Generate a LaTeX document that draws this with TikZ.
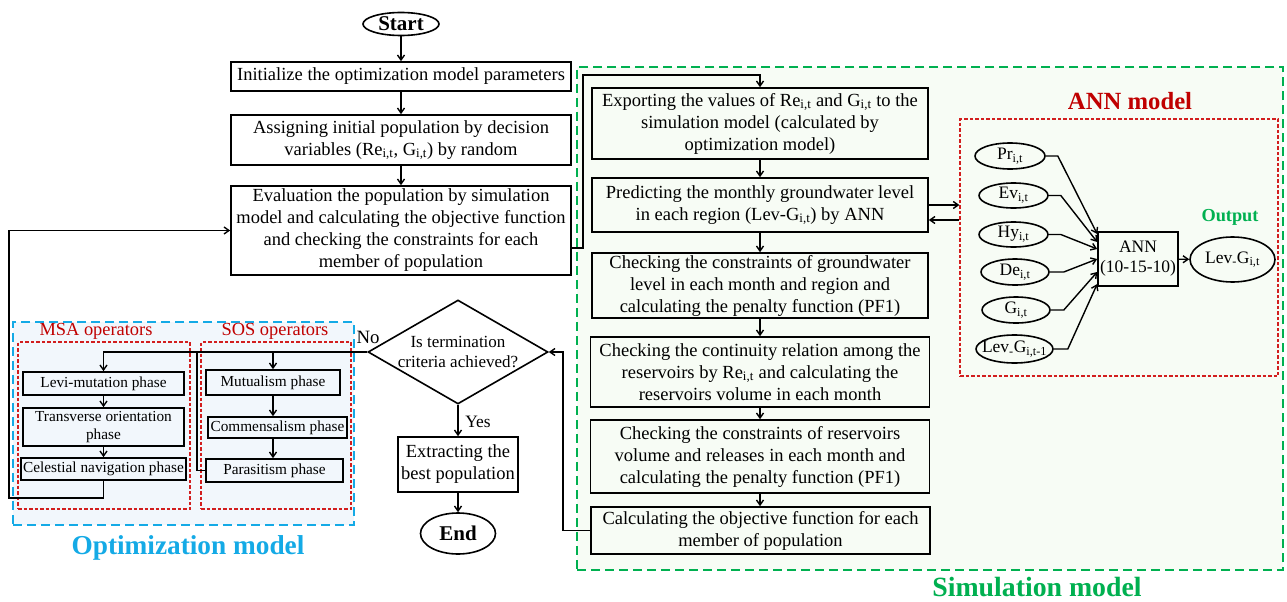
\documentclass[tikz,border=0pt]{standalone}
\usepackage{fontspec}
\setmainfont{Liberation Serif}
\usetikzlibrary{shapes.geometric,arrows.meta,calc}
\definecolor{optblue}{RGB}{20,170,230}
\definecolor{simgreen}{RGB}{0,176,80}
\definecolor{darkred}{RGB}{192,0,0}
\definecolor{boxred}{RGB}{210,30,30}
\definecolor{optfill}{RGB}{242,247,252}
\definecolor{simfill}{RGB}{247,252,245}
\newcommand{\fsmain}{\fontsize{18.5}{22}\selectfont}
\newcommand{\fssmall}{\fontsize{15.3}{18}\selectfont}
\newcommand{\fsann}{\fontsize{17.5}{20}\selectfont}
\newcommand{\ssub}[1]{\textsubscript{#1}}
\newcommand{\zw}[1]{\makebox[0pt]{#1}}
\begin{document}
\begin{tikzpicture}[x=1pt,y=-1pt,
  bx/.style 2 args={draw, line width=1.6pt, align=center, inner sep=0pt,
    minimum width=#1, minimum height=#2, font=\fsmain},
  sbx/.style 2 args={bx={#1}{#2}, font=\fssmall},
  ell/.style 2 args={draw, ellipse, line width=1.6pt, inner sep=0pt,
    minimum width=#1, minimum height=#2, font=\fsann},
  arr/.style={line width=1.4pt, -{Straight Barb[length=5pt,width=7pt]}},
  ln/.style={line width=1.4pt},
  zone/.style={inner sep=0pt, line width=1.5pt},
  lbl/.style={inner sep=0pt}
]
\useasboundingbox (0,0) rectangle (1287,602);
\fill[white] (0,0) rectangle (1287,602);

% ---- zones ----
\node[zone, draw=simgreen, fill=simfill, dash pattern=on 9pt off 5pt,
  minimum width=706, minimum height=503] (simbox) at (930,318.5) {};
\node[zone, draw=optblue, fill=optfill, dash pattern=on 9pt off 5pt,
  minimum width=341, minimum height=203] (optbox) at (183.5,423.5) {};
\node[zone, draw=boxred, line width=1.2pt, dash pattern=on 3.5pt off 2pt,
  minimum width=172, minimum height=167] (msabox) at (104,425.5) {};
\node[zone, draw=boxred, line width=1.2pt, dash pattern=on 3.5pt off 2pt,
  minimum width=150, minimum height=167] (sosbox) at (276,425.5) {};
\node[zone, draw=boxred, line width=1.2pt, dash pattern=on 3.5pt off 2pt,
  minimum width=318, minimum height=257] (annbox) at (1119,247.5) {};

% ---- zone labels ----
\node[lbl, text=darkred, font=\fontsize{18.4}{20}\selectfont] (msalbl) at (96,331) {MSA operators};
\node[lbl, text=darkred, font=\fontsize{18.4}{20}\selectfont] (soslbl) at (275,331) {SOS operators};
\node[lbl, text=optblue, font=\bfseries\fontsize{27.3}{30}\selectfont] (optlbl) at (188,548) {Optimization model};
\node[lbl, text=simgreen, font=\bfseries\fontsize{27.8}{30}\selectfont] (simlbl) at (1037,587) {Simulation model};
\node[lbl, text=darkred, font=\bfseries\fontsize{24.7}{27}\selectfont] (annlbl) at (1130,101) {ANN model};
\node[lbl, text=simgreen, font=\bfseries\fontsize{18.3}{20}\selectfont] (outlbl) at (1230,217) {Output};

% ---- main optimisation flow ----
\node[ell={76}{23}, font=\bfseries\fontsize{21}{24}\selectfont] (start) at (401,24) {\zw{Start}};
\node[bx={340}{29}] (init) at (401,76.5) {Initialize the optimization model parameters};
\node[bx={340}{50}] (assign) at (401,140) {Assigning initial population by decision\\variables (Re\ssub{i,t}, G\ssub{i,t}) by random};
\node[bx={340}{89}] (eval) at (401,230.5) {Evaluation the population by simulation\\model and calculating the objective function\\and checking the constraints for each\\member of population};

\node[draw, diamond, aspect=1.73, line width=1.6pt, inner sep=0pt,
  minimum width=180, minimum height=104, align=center,
  font=\fontsize{17}{20}\selectfont] (dec) at (458,352) {Is termination\\criteria achieved?};
\node[bx={120}{55}] (extract) at (458,464.5) {Extracting the\\best population};
\node[ell={75}{41}, font=\bfseries\fontsize{21}{24}\selectfont] (end) at (458,533.5) {\zw{End}};

% ---- MSA / SOS ----
\node[sbx={161}{23}] (levi) at (103.5,383.5) {Levi-mutation phase};
\node[sbx={161}{38}] (trans) at (103.5,427) {Transverse orientation\\phase};
\node[sbx={165}{22}] (celes) at (103.5,469) {\zw{Celestial navigation phase}};
\node[sbx={134}{25}] (mutu) at (273,382.5) {Mutualism phase};
\node[sbx={139}{21}] (comm) at (277.5,427.5) {\zw{Commensalism phase}};
\node[sbx={137}{23}] (para) at (274.5,470.5) {Parasitism phase};

% ---- simulation flow ----
\node[bx={336}{71}] (export) at (760,123.5) {Exporting the values of Re\ssub{i,t} and G\ssub{i,t} to the\\simulation model (calculated by\\optimization model)};
\node[bx={336}{54}] (predict) at (760,205) {Predicting the monthly groundwater level\\in each region (Lev-G\ssub{i,t}) by ANN};
\node[bx={336}{65}] (checkgw) at (760,285.5) {Checking the constraints of groundwater\\level in each month and region and\\calculating the penalty function (PF1)};
\node[bx={339}{70}] (contin) at (760,372) {Checking the continuity relation among the\\reservoirs by Re\ssub{i,t} and calculating the\\reservoirs volume in each month};
\node[bx={339}{73}] (constr) at (760,456.5) {Checking the constraints of reservoirs\\volume and releases in each month and\\calculating the penalty function (PF1)};
\node[bx={339}{47}] (calcobj) at (760.5,530.5) {Calculating the objective function for each\\member of population};

% ---- ANN ----
\node[ell={70}{26}] (pr) at (1010,156) {\zw{Pr\ssub{i,t}}};
\node[ell={69}{25}] (ev) at (1013.5,195.5) {\zw{Ev\ssub{i,t}}};
\node[ell={69}{25}] (hy) at (1013.5,234.5) {\zw{Hy\ssub{i,t}}};
\node[ell={68}{26}] (de) at (1015,272) {\zw{De\ssub{i,t}}};
\node[ell={68}{26}] (g) at (1016,310) {\zw{G\ssub{i,t}}};
\node[ell={77}{28}] (lev) at (1014.5,349) {\zw{Lev\ssub{-}G\ssub{i,t-1}}};
\node[bx={80}{54}, font=\fsann] (ann) at (1138,259) {ANN\\(10-15-10)};
\node[ell={85}{45}] (out) at (1232.5,259.5) {\zw{Lev\ssub{-}G\ssub{i,t}}};

% ---- labels on arrows ----
\node[lbl, font=\fontsize{18.8}{20}\selectfont] (nolbl) at (368,337) {No};
\node[lbl, font=\fontsize{17.4}{20}\selectfont] (yeslbl) at (478,422) {Yes};

% ---- connectors ----
\coordinate (c1) at (583,75);
\coordinate (c2) at (563,352);
\coordinate (c4) at (197,352);
\coordinate (c6) at (9,498);
\coordinate (p2) at ([yshift=-15pt]predict.east);

\draw[arr] (start) -- (init);
\draw[arr] (init) -- (assign);
\draw[arr] (assign) -- (eval);
\draw[arr] ([yshift=-17.5pt]eval.east) -| (c1) -| (export.north);
\draw[arr] (export) -- (predict);
\draw[arr] (predict) -- (checkgw);
\draw[arr] (checkgw) -- (contin);
\draw[arr] (contin) -- (constr);
\draw[arr] (constr.south) -- (constr.south |- calcobj.north);
\draw[arr] (predict.east) -- (predict.east -| annbox.west);
\draw[arr] (p2 -| annbox.west) -- (p2);
\draw[arr] (calcobj.west) -| (c2) -- (dec.east);
\draw[arr] (dec.west) -- (dec.west -| levi.north) -- (levi.north);
\draw[arr] (dec.west -| mutu.north) -- (mutu.north);
\draw[ln] (c4) |- (para.west);
\draw[arr] (levi) -- (trans);
\draw[arr] (trans) -- (celes);
\draw[arr] (mutu.south) -- (mutu.south |- comm.north);
\draw[arr] (mutu.south |- comm.south) -- (mutu.south |- para.north);
\draw[arr] (celes.south) |- (c6) |- (eval.west);
\draw[arr] (dec.south) -- (extract.north);
\draw[arr] (extract) -- (end);

\draw[arr] (pr.east) -- ++(12,0) -- ($(ann.west)+(0,-25)$);
\draw[arr] (ev.east) -- ++(12,0) -- ($(ann.west)+(0,-17)$);
\draw[arr] (hy.east) -- ++(12,0) -- ($(ann.west)+(0,-10)$);
\draw[arr] (de.east) -- ++(14,0) -- ($(ann.west)+(0,0)$);
\draw[arr] (g.east) -- ++(13,0) -- ($(ann.west)+(0,13)$);
\draw[arr] (lev.east) -- ++(14,0) -- ($(ann.west)+(0,25)$);
\draw[arr] (ann) -- (out);
\end{tikzpicture}
\end{document}
